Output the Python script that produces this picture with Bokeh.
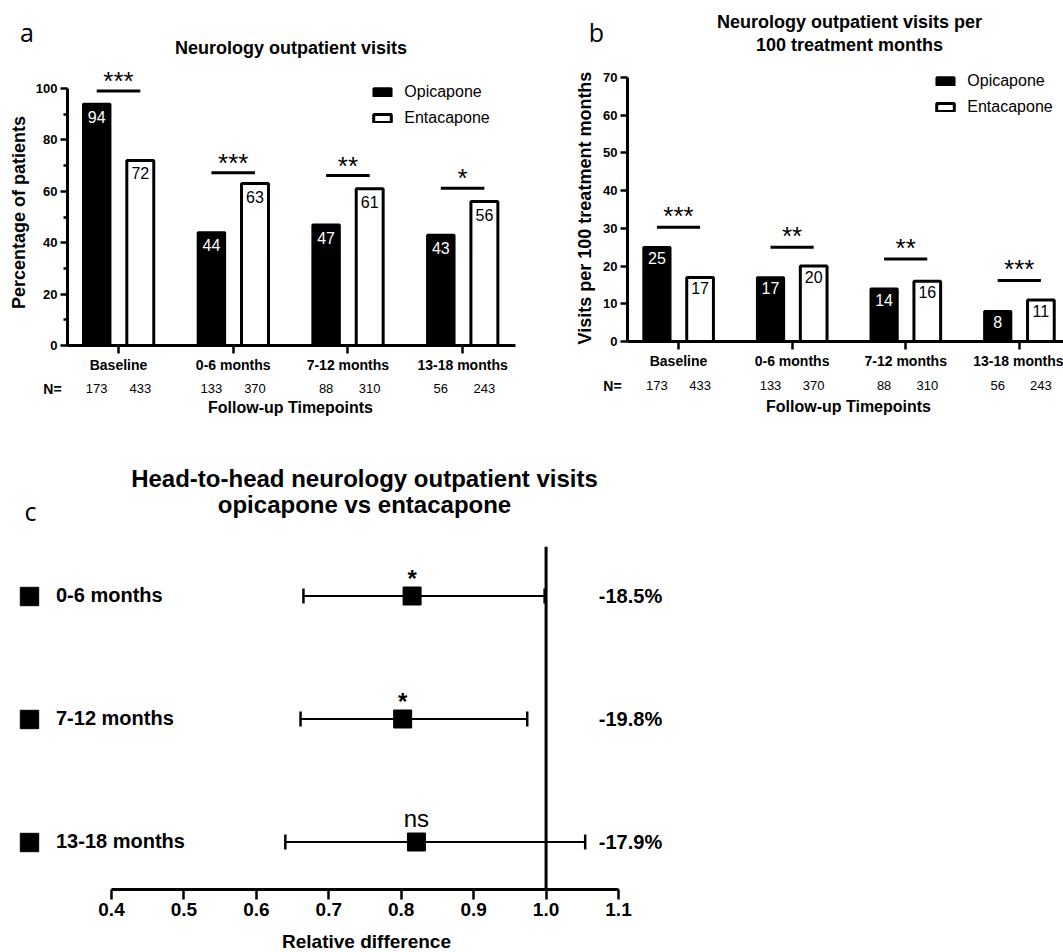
import math
from bokeh.plotting import figure
from bokeh.layouts import column, row
from bokeh.models import (ColumnDataSource, Range1d, FixedTicker, Label, LabelSet,
                          Legend, LegendItem, Whisker, TeeHead, NumeralTickFormatter)
from bokeh.core.properties import value
from bokeh.embed import file_html
from bokeh.resources import INLINE

# ---------------- data ----------------
timepoints = ["Baseline", "0-6 months", "7-12 months", "13-18 months"]
n_opicapone = [173, 133, 88, 56]
n_entacapone = [433, 370, 310, 243]

# panel a: % of patients with a neurology outpatient visit
pct_opicapone = [94, 44, 47, 43]
pct_entacapone = [72, 63, 61, 56]
pct_sig_labels = ["***", "***", "**", "*"]
pct_sig_heights = [99, 67.2, 66.1, 61.2]
pct_ticks = [0, 20, 40, 60, 80, 100]
pct_minor = [10, 30, 50, 70, 90]

# panel b: visits per 100 treatment months
rate_opicapone = [25, 17, 14, 8]
rate_entacapone = [17, 20, 16, 11]
rate_sig_labels = ["***", "**", "**", "***"]
rate_sig_heights = [30.3, 25.0, 21.9, 16.2]
rate_ticks = [0, 10, 20, 30, 40, 50, 60, 70]

# panel c: head-to-head relative difference
forest_periods = ["0-6 months", "7-12 months", "13-18 months"]
rel_diff = [0.815, 0.802, 0.821]
ci_low = [0.665, 0.661, 0.640]
ci_high = [0.998, 0.974, 1.054]
rel_diff_labels = ["-18.5%", "-19.8%", "-17.9%"]
forest_sig = ["*", "*", "ns"]
rel_ticks = [0.4, 0.5, 0.6, 0.7, 0.8, 0.9, 1.0, 1.1]
null_value = 1.0

# ---------------- style / layout ----------------
FONT = "Liberation Sans"
LABEL_FONT = "Open Sans"
BAR_OFF = 0.19
BAR_W = 0.235


def style_axis(ax, tick_size, label_px):
    ax.axis_line_width = 3
    ax.axis_line_color = "black"
    ax.major_tick_line_width = 2.5
    ax.major_tick_line_color = "black"
    ax.major_tick_in = 0
    ax.minor_tick_in = 0
    ax.minor_tick_out = 4
    ax.minor_tick_line_width = 2.5
    ax.minor_tick_line_color = "black"
    ax.major_tick_out = tick_size
    ax.major_label_text_font = FONT
    ax.major_label_text_font_style = "bold"
    ax.major_label_text_font_size = label_px
    ax.major_label_text_color = "black"


def make_fig(w, h, xr, yr):
    p = figure(width=w, height=h, x_range=Range1d(*xr), y_range=Range1d(*yr),
               output_backend="svg", toolbar_location=None,
               min_border_left=0, min_border_right=0, min_border_top=0,
               min_border_bottom=0, outline_line_color=None,
               background_fill_color="white")
    p.grid.visible = False
    return p


def txt(p, fig_h, text, x, y_top, size, bold=True, font=FONT, align="center",
        baseline="middle", angle=0.0):
    p.add_layout(Label(x=x, y=fig_h - y_top, x_units="screen", y_units="screen", text=text,
                       text_font=font, text_font_size=size,
                       text_font_style="bold" if bold else "normal",
                       text_align=align, text_baseline=baseline, angle=angle,
                       text_color="black"))


def bar_panel(w, h, px_x, cat1_px, px_y, zero_px, axis_left_px, axis_right_px,
              yticks, yminor, opi, enta, sig_h, sig_lab, letter, letter_xy, titles,
              ylabel, ylabel_xy, legend_xy, n_row_y, nlabel_x, follow_xy, lab_dy, star_dy):
    to_x = lambda px: 1 + (px - cat1_px) / px_x
    xr = (to_x(0), to_x(w))
    yr = ((zero_px - h) / px_y, zero_px / px_y)
    p = make_fig(w, h, xr, yr)
    xs = list(range(1, len(timepoints) + 1))
    src = ColumnDataSource(dict(
        x=xs,
        xo=[x - BAR_OFF for x in xs],
        xe=[x + BAR_OFF for x in xs],
        opi=opi, enta=enta,
        opi_s=[str(v) for v in opi], enta_s=[str(v) for v in enta],
        n_opi=[str(v) for v in n_opicapone], n_enta=[str(v) for v in n_entacapone],
        sig=sig_lab, sig_h=sig_h,
    ))
    r_opi = p.vbar(x="xo", top="opi", width=BAR_W, fill_color="black",
                   line_color="black", line_width=2.5, source=src)
    r_enta = p.vbar(x="xe", top="enta", width=BAR_W, fill_color="white",
                    line_color="black", line_width=3, source=src)
    p.text(x="xo", y="opi", text="opi_s", text_color="white", text_font=value(FONT),
           text_font_size="16px", text_align="center", text_baseline="middle",
           y_offset=lab_dy, source=src)
    p.text(x="xe", y="enta", text="enta_s", text_color="black", text_font=value(FONT),
           text_font_size="16px", text_align="center", text_baseline="middle",
           y_offset=lab_dy, source=src)
    # significance brackets
    p.segment(x0="xo", x1="xe", y0="sig_h", y1="sig_h", line_width=3,
              line_color="black", source=src)
    p.text(x="x", y="sig_h", text="sig", text_color="black", text_font=value(FONT),
           text_font_size="26px", text_align="center", text_baseline="alphabetic",
           y_offset=star_dy, source=src)

    # axes drawn at fixed locations inside the (full-size) frame
    y_axis_x = to_x(axis_left_px)
    p.yaxis.fixed_location = y_axis_x
    p.yaxis.ticker = FixedTicker(ticks=yticks, minor_ticks=yminor)
    p.yaxis.bounds = (yticks[0], yticks[-1])
    style_axis(p.yaxis[0], 7, "13px")
    p.yaxis.major_label_standoff = 3
    p.xaxis.fixed_location = 0
    p.xaxis.ticker = FixedTicker(ticks=xs, minor_ticks=[])
    p.xaxis.bounds = (y_axis_x, to_x(axis_right_px))
    p.xaxis.major_label_overrides = {x: t for x, t in zip(xs, timepoints)}
    style_axis(p.xaxis[0], 8, "14px")
    p.xaxis.major_label_standoff = 3
    p.xaxis.minor_tick_line_color = None

    # legend
    leg = Legend(items=[LegendItem(label="Opicapone", renderers=[r_opi]),
                        LegendItem(label="Entacapone", renderers=[r_enta])],
                 location=legend_xy, glyph_width=22, glyph_height=10, label_height=20,
                 spacing=6, padding=0, margin=0, label_standoff=11,
                 border_line_color=None, background_fill_alpha=0,
                 label_text_font=FONT, label_text_font_size="16px",
                 label_text_color="black")
    p.add_layout(leg)

    # N row
    for col, xcol in (("n_opi", "xo"), ("n_enta", "xe")):
        p.add_layout(LabelSet(x=xcol, y=h - n_row_y, y_units="screen", text=col,
                              source=src, text_font=value(FONT), text_font_size="13px",
                              text_align="center", text_baseline="middle",
                              text_color="black"))
    txt(p, h, "N=", nlabel_x, n_row_y, "14px")
    txt(p, h, "Follow-up Timepoints", follow_xy[0], follow_xy[1], "16px")
    txt(p, h, ylabel, ylabel_xy[0], ylabel_xy[1], "18px", angle=math.pi / 2)
    for (tx, ty, tt) in titles:
        txt(p, h, tt, tx, ty, "18px")
    txt(p, h, letter, letter_xy[0], letter_xy[1], "25px", bold=False, font=LABEL_FONT)
    return p


pa = bar_panel(550, 430, 114.7, 118, 2.57, 345, 67, 515,
               pct_ticks, pct_minor, pct_opicapone, pct_entacapone,
               pct_sig_heights, pct_sig_labels,
               "a", (26.5, 31), [(290.5, 47.5, "Neurology outpatient visits")],
               "Percentage of patients", (18.3, 212), (371.3, 302), 388, 52, (290, 407),
               13, -10)

pb = bar_panel(513, 430, 113.6, 128, 3.7714, 341, 77, 513,
               rate_ticks, [], rate_opicapone, rate_entacapone,
               rate_sig_heights, rate_sig_labels,
               "b", (46, 31),
               [(299, 21, "Neurology outpatient visits per"),
                (299, 44, "100 treatment months")],
               "Visits per 100 treatment months", (34, 207.5), (384.3, 313), 385, 62,
               (298, 406), 11, -11)

# ---------------- panel c: forest plot ----------------
C_TOP = 430
c_w, c_h = 1063, 522
n_rows = len(forest_periods)
rows = list(range(n_rows, 0, -1))
px_row = 123.0
row1_px = 841.5 - C_TOP
axis_px = 889 - C_TOP
px_x = 507 / 0.7
to_row = lambda px: 1 + (row1_px - px) / px_row
x0c = rel_ticks[0] - 111 / px_x
pc = make_fig(c_w, c_h, (x0c, x0c + c_w / px_x), (to_row(c_h), to_row(0)))
axis_y = to_row(axis_px)

is_star = [s.startswith("*") for s in forest_sig]
src_c = ColumnDataSource(dict(
    row=rows, est=rel_diff, lo=ci_low, hi=ci_high, pct=rel_diff_labels, sig=forest_sig,
    sig_dy=[-18 if st else -24 for st in is_star],
    sig_style=["bold" if st else "normal" for st in is_star],
))
pc.segment(x0=null_value, x1=null_value, y0=axis_y, y1=n_rows + 0.4, line_width=3,
           line_color="black")
pc.add_layout(Whisker(source=src_c, base="row", lower="lo", upper="hi", dimension="width",
                      line_width=2, line_color="black",
                      upper_head=TeeHead(size=15, line_width=2.5, line_color="black"),
                      lower_head=TeeHead(size=15, line_width=2.5, line_color="black")))
r_pts = pc.scatter(x="est", y="row", marker="square", size=18, fill_color="black",
                   line_color="black", source=src_c)
pc.text(x="est", y="row", text="sig", text_font=value(FONT), text_font_size="24px",
        text_font_style="sig_style", text_align="center", text_baseline="alphabetic",
        y_offset="sig_dy", text_color="black", source=src_c)
pc.add_layout(LabelSet(x=630, x_units="screen", y="row", text="pct", source=src_c,
                       text_font=value(FONT), text_font_size="20px",
                       text_font_style="bold", text_align="center",
                       text_baseline="middle", text_color="black"))
leg_c = Legend(items=[LegendItem(label=per, renderers=[r_pts], index=i)
                      for i, per in enumerate(forest_periods)],
               location=(6, c_h - (864.5 - C_TOP)), glyph_width=46, glyph_height=46,
               label_height=46, spacing=77, padding=0, margin=0, label_standoff=4,
               border_line_color=None, background_fill_alpha=0,
               label_text_font=FONT, label_text_font_size="20px",
               label_text_font_style="bold", label_text_color="black")
pc.add_layout(leg_c)

pc.yaxis.visible = False
pc.xaxis.fixed_location = axis_y
pc.xaxis.ticker = FixedTicker(ticks=rel_ticks, minor_ticks=[])
pc.xaxis.bounds = (rel_ticks[0], rel_ticks[-1])
pc.xaxis.formatter = NumeralTickFormatter(format="0.0")
style_axis(pc.xaxis[0], 10, "19px")
pc.xaxis.major_label_standoff = 3
pc.xaxis.minor_tick_line_color = None

txt(pc, c_h, "Head-to-head neurology outpatient visits", 364, 478 - C_TOP, "24px")
txt(pc, c_h, "opicapone vs entacapone", 364, 504 - C_TOP, "24px")
txt(pc, c_h, "c", 30, 510 - C_TOP, "25px", bold=False, font=LABEL_FONT)
txt(pc, c_h, "Relative difference", 366, 941 - C_TOP, "19px")

layout = column(row(pa, pb), pc)
open("out.html", "w").write(file_html(layout, INLINE))
